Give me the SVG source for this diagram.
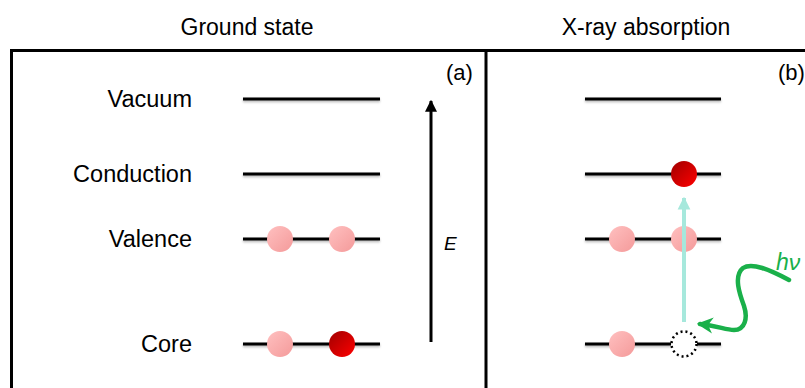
<svg xmlns="http://www.w3.org/2000/svg" width="805" height="388" viewBox="0 0 805 388">
<defs>
<style>
text{font-family:"Liberation Sans",Arial,sans-serif;fill:#000}
.t{font-size:23px;text-anchor:middle}
.lbl{font-size:23.5px;text-anchor:end}
.lvl{stroke:#000;stroke-width:3;fill:none;filter:url(#sh)}
.frame{stroke:#000;stroke-width:3;fill:none}
.pink{fill:url(#gp)}
.red{fill:url(#gr)}
</style>
<linearGradient id="gp" x1="0" y1="0" x2="1" y2="1">
<stop offset="0" stop-color="#ffc0c0"/>
<stop offset="1" stop-color="#f49a9a"/>
</linearGradient>
<linearGradient id="gr" x1="0" y1="0" x2="1" y2="1">
<stop offset="0" stop-color="#a00000"/>
<stop offset="1" stop-color="#ff0000"/>
</linearGradient>
<filter id="sh" filterUnits="userSpaceOnUse" x="0" y="0" width="805" height="388">
<feDropShadow dx="0" dy="1.5" stdDeviation="1" flood-color="#000" flood-opacity="0.3"/>
</filter>
<marker id="ak" viewBox="0 0 10 10" refX="9" refY="5" markerWidth="4" markerHeight="4.5" orient="auto" markerUnits="strokeWidth">
<path d="M0,0 L10,5 L0,10 z" fill="#000"/>
</marker>
<marker id="ac" viewBox="0 0 10 10" refX="9" refY="5" markerWidth="3.2" markerHeight="3.6" orient="auto" markerUnits="strokeWidth">
<path d="M0,0 L10,5 L0,10 z" fill="#a6e8dc"/>
</marker>
<marker id="ag" viewBox="0 0 10 10" refX="8" refY="5" markerWidth="3.6" markerHeight="4.2" orient="auto" markerUnits="strokeWidth">
<path d="M0,0 L10,5 L0,10 L3,5 z" fill="#1ab04a"/>
</marker>
</defs>

<g id="frame">
<path class="frame" d="M11.5,392 V50.5 H810"/>
<line class="frame" x1="486" y1="50.5" x2="486" y2="392"/>
</g>

<g id="titles">
<text class="t" x="247" y="35">Ground state</text>
<text class="t" x="646" y="35">X-ray absorption</text>
<text x="446" y="80" font-size="22">(a)</text>
<text x="778" y="80" font-size="22">(b)</text>
</g>

<g id="labels">
<text class="lbl" x="192" y="107">Vacuum</text>
<text class="lbl" x="192" y="182">Conduction</text>
<text class="lbl" x="192" y="247">Valence</text>
<text class="lbl" x="192" y="352">Core</text>
</g>

<g id="panel-a">
<line class="lvl" x1="243" y1="99" x2="380" y2="99"/>
<line class="lvl" x1="243" y1="174" x2="380" y2="174"/>
<line class="lvl" x1="243" y1="239" x2="380" y2="239"/>
<line class="lvl" x1="243" y1="344" x2="380" y2="344"/>
<circle class="pink" cx="280" cy="239" r="13"/>
<circle class="pink" cx="342" cy="239" r="13"/>
<circle class="pink" cx="280" cy="344" r="13"/>
<circle class="red" cx="342" cy="344" r="13"/>
</g>

<g id="energy-axis">
<line x1="431" y1="342" x2="431" y2="101" stroke="#000" stroke-width="3" marker-end="url(#ak)"/>
<text x="444" y="250" font-size="19" font-style="italic">E</text>
</g>

<g id="panel-b">
<line class="lvl" x1="585" y1="99" x2="721" y2="99"/>
<line class="lvl" x1="585" y1="174" x2="721" y2="174"/>
<line class="lvl" x1="585" y1="239" x2="721" y2="239"/>
<line class="lvl" x1="585" y1="344" x2="671" y2="344"/>
<line class="lvl" x1="697" y1="344" x2="721" y2="344"/>
<circle class="red" cx="684" cy="174" r="13"/>
<circle class="pink" cx="622" cy="239" r="13"/>
<circle class="pink" cx="684" cy="239" r="13"/>
<circle class="pink" cx="622" cy="344" r="13"/>
<circle cx="684" cy="344" r="12.5" fill="#fff" stroke="#000" stroke-width="2.5" stroke-dasharray="2 3"/>
</g>

<g id="connectors">
<line x1="684" y1="322" x2="684" y2="198" stroke="#a6e8dc" stroke-width="4" marker-end="url(#ac)"/>
<path d="M789,280 C770,270 752,262 743,268 C733,276 740,295 744,306 C748,318 745,330 734,330 C726,330 718,326 700,324" fill="none" stroke="#1ab04a" stroke-width="4.5" stroke-linecap="round" marker-end="url(#ag)"/>
<text x="776" y="270" font-size="23" font-style="italic" style="fill:#1ab04a">hν</text>
</g>
</svg>
